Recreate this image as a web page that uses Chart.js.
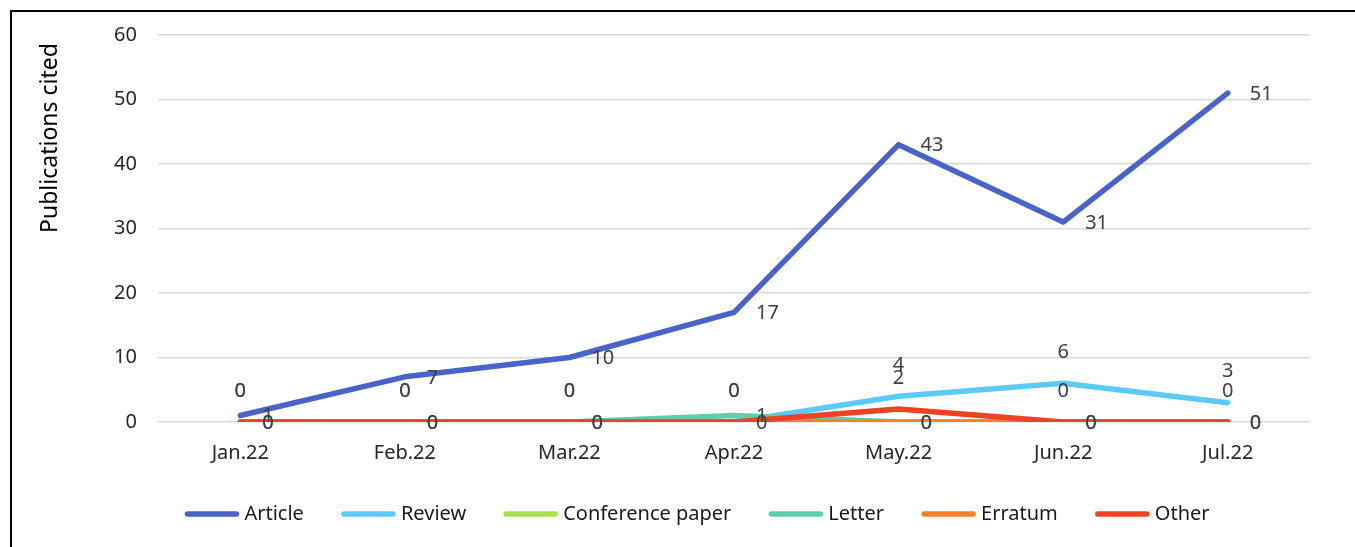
<!DOCTYPE html>
<html>
<head>
<meta charset="utf-8">
<script src="https://cdn.jsdelivr.net/npm/chart.js@4.4.1/dist/chart.umd.min.js"></script>
<style>
  html, body { margin: 0; padding: 0; background: #fff; }
  #wrap { position: relative; width: 1355px; height: 547px; overflow: hidden; }
  #frame { position: absolute; left: 10px; top: 10px; width: 1400px; height: 600px;
           border-left: 2px solid #000; border-top: 2px solid #000; }
  canvas { position: absolute; left: 0; top: 0; }
</style>
</head>
<body>
<div id="wrap">
  <div id="frame"></div>
  <canvas id="chart" width="1355" height="547"></canvas>
</div>
<script>
const months = ['Jan.22', 'Feb.22', 'Mar.22', 'Apr.22', 'May.22', 'Jun.22', 'Jul.22'];
const article = [1, 7, 10, 17, 43, 31, 51];
const review = [0, 0, 0, 0, 4, 6, 3];
const conference = [0, 0, 0, 0, 0, 0, 0];
const letter = [0, 0, 0, 1, 0, 0, 0];
const erratum = [0, 0, 0, 0, 0, 0, 0];
const other = [0, 0, 0, 0, 2, 0, 0];
const yTicks = [0, 10, 20, 30, 40, 50, 60];
const yTitle = 'Publications cited';

const FONT = 'Noto Sans';

function series(label, data, color, order, labelPos) {
  return {
    label: label,
    data: data,
    borderColor: color,
    backgroundColor: color,
    borderWidth: 5.5,
    borderCapStyle: 'round',
    borderJoinStyle: 'round',
    pointRadius: 0,
    tension: 0,
    order: order,
    labelPos: labelPos
  };
}

// value labels next to each point, like the Excel data labels
const valueLabels = {
  id: 'valueLabels',
  afterDatasetsDraw(chart) {
    const ctx = chart.ctx;
    ctx.save();
    ctx.font = '20px "' + FONT + '"';
    ctx.fillStyle = '#404040';
    ctx.textBaseline = 'middle';
    chart.data.datasets.forEach((ds, i) => {
      if (!ds.labelPos) return;
      const meta = chart.getDatasetMeta(i);
      meta.data.forEach((pt, j) => {
        const txt = String(ds.data[j]);
        if (ds.labelPos === 'right') {
          ctx.textAlign = 'left';
          ctx.fillText(txt, pt.x + 22, pt.y + 1);
        } else {
          ctx.textAlign = 'center';
          ctx.fillText(txt, pt.x, pt.y - 31);
        }
      });
    });
    ctx.restore();
  }
};

// axis title sits near the top, and the legend uses Excel spacing
const extras = {
  id: 'extras',
  afterDraw(chart) {
    const ctx = chart.ctx;
    ctx.save();
    ctx.fillStyle = '#000';
    ctx.font = '23px "' + FONT + '"';
    ctx.textAlign = 'center';
    ctx.textBaseline = 'middle';
    ctx.translate(50, 138);
    ctx.rotate(-Math.PI / 2);
    ctx.fillText(yTitle, 0, 0);
    ctx.restore();

    ctx.save();
    ctx.font = '20px "' + FONT + '"';
    ctx.textBaseline = 'middle';
    ctx.textAlign = 'left';
    const sw = 55, gap = 5, space = 37, y = 514;
    const items = chart.data.datasets.map(ds => ({
      text: ds.label, color: ds.borderColor, w: ctx.measureText(ds.label).width
    }));
    const total = items.reduce((s, it) => s + sw + gap + it.w, 0) + space * (items.length - 1);
    let x = 697 - total / 2;
    items.forEach(it => {
      ctx.strokeStyle = it.color;
      ctx.lineWidth = 5.5;
      ctx.lineCap = 'round';
      ctx.beginPath();
      ctx.moveTo(x + 3, y);
      ctx.lineTo(x + sw - 3, y);
      ctx.stroke();
      ctx.fillStyle = '#1a1a1a';
      ctx.fillText(it.text, x + sw + gap, y);
      x += sw + gap + it.w + space;
    });
    ctx.restore();
  }
};

const ctx = document.getElementById('chart').getContext('2d');
const chart = new Chart(ctx, {
  type: 'line',
  data: {
    labels: months,
    datasets: [
      series('Article', article, '#4A63C9', 5, 'right'),
      series('Review', review, '#5BCBF5', 4, 'above'),
      series('Conference paper', conference, '#A6E34E', 3, null),
      series('Letter', letter, '#5CCDAE', 2, 'right'),
      series('Erratum', erratum, '#FA8024', 1, 'right'),
      series('Other', other, '#EF4124', 0, 'above')
    ]
  },
  options: {
    responsive: false,
    animation: false,
    layout: { padding: { left: 0, right: 45, top: 35, bottom: 63 } },
    plugins: {
      tooltip: { enabled: false },
      legend: { display: false }
    },
    scales: {
      x: {
        offset: true,
        grid: { display: false, drawTicks: false },
        border: { display: false },
        ticks: { color: '#262626', padding: 19, font: { family: FONT, size: 20 } }
      },
      y: {
        min: 0,
        max: 60,
        afterBuildTicks: (scale) => { scale.ticks = yTicks.map(v => ({ value: v })); },
        afterFit: (scale) => { scale.width = 158; },
        grid: { color: '#D9D9D9', lineWidth: 1.5, drawTicks: false },
        border: { display: false },
        ticks: { color: '#262626', padding: 21, font: { family: FONT, size: 20 } }
      }
    }
  },
  plugins: [valueLabels, extras]
});
</script>
</body>
</html>
